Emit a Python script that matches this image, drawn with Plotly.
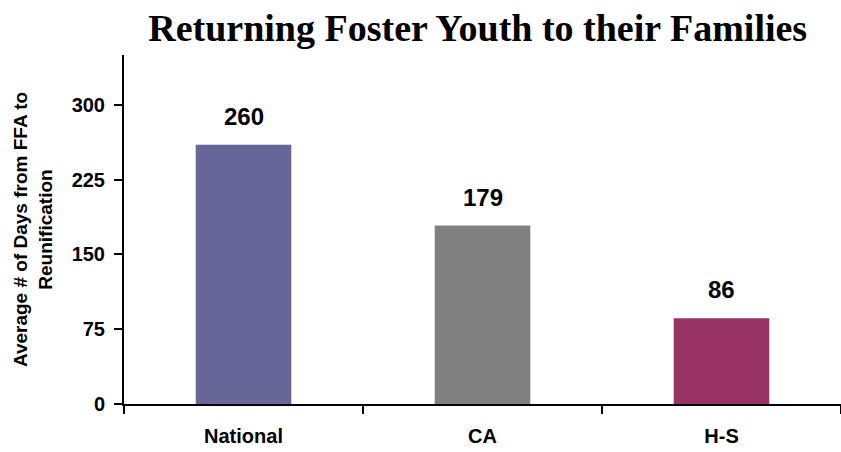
import plotly.graph_objects as go

# Data
categories = ['National', 'CA', 'H-S']
days = [260, 179, 86]
bar_colors = ['#666699', '#808080', '#993366']

fig = go.Figure()

fig.add_trace(go.Bar(
    x=categories,
    y=days,
    width=0.4,
    marker=dict(color=bar_colors, line=dict(width=0)),
    showlegend=False,
    hoverinfo='x+y'
))

# value labels floating above bars
for c, v in zip(categories, days):
    fig.add_annotation(
        x=c, y=v, text='<b>%d</b>' % v,
        showarrow=False, yanchor='bottom', yshift=13,
        font=dict(family='Liberation Sans, Arial', size=24, color='black')
    )

fig.update_layout(
    width=841, height=452,
    margin=dict(l=124, r=0, t=55, b=48),
    paper_bgcolor='white',
    plot_bgcolor='white',
    title=dict(
        text='<b>Returning Foster Youth to their Families</b>',
        x=0.568, xanchor='center', y=0.938, yanchor='middle',
        font=dict(family='Liberation Serif, Times New Roman', size=38, color='black')
    ),
    font=dict(family='Liberation Sans, Arial', color='black'),
    bargap=0.6
)

fig.update_xaxes(
    type='category',
    range=[-0.5, 2.5],
    showline=True, linecolor='black', linewidth=2,
    ticks='outside', tickson='boundaries', ticklen=8, tickwidth=2, tickcolor='black',
    tickfont=dict(size=20, family='Liberation Sans, Arial', color='black'),
    ticklabelstandoff=13,
    tickprefix='<b>', ticksuffix='</b>',
    showgrid=False, zeroline=False
)

fig.update_yaxes(
    range=[0, 350],
    tick0=0, dtick=75,
    showline=True, linecolor='black', linewidth=2,
    ticks='outside', ticklen=8, tickwidth=2, tickcolor='black',
    tickfont=dict(size=20, family='Liberation Sans, Arial', color='black'),
    ticklabelstandoff=5,
    tickprefix='<b>', ticksuffix='</b>',
    showgrid=False, zeroline=False,
    title=dict(
        text='<b>Average # of Days from FFA to<br>Reunification</b>',
        font=dict(size=19, family='Liberation Sans, Arial', color='black'),
        standoff=14
    )
)

fig.write_html('out.html', config={'displayModeBar': False},
               post_script="document.body.style.margin='0';")
